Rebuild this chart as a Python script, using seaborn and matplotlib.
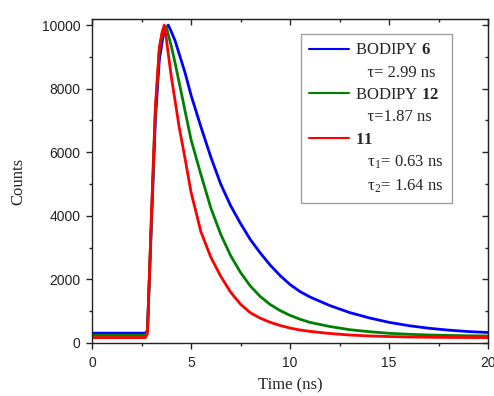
import matplotlib
matplotlib.use("Agg")
import matplotlib.pyplot as plt
from matplotlib.lines import Line2D
from matplotlib.ticker import MultipleLocator
import seaborn as sns
import pandas as pd

# ---- data ----
time_ns = [0, 2.7, 2.8, 3.0, 3.2, 3.4, 3.55, 3.65, 3.75, 3.85, 4.0, 4.2, 4.4, 4.7,
           5.0, 5.5, 6.0, 6.5, 7.0, 7.5, 8.0, 8.5, 9.0, 9.5, 10, 10.5, 11, 12, 13,
           14, 15, 16, 17, 18, 19, 20]
bodipy6 = [310, 310, 400, 3700, 7000, 8900, 9500, 9800, 9900, 10000, 9800, 9500,
           9100, 8500, 7800, 6800, 5850, 5000, 4320, 3760, 3250, 2830, 2450, 2120,
           1840, 1620, 1450, 1180, 960, 790, 650, 545, 465, 405, 360, 330]
bodipy12 = [240, 240, 350, 3900, 7300, 9200, 9750, 9900, 9950, 9700, 9350, 8800,
            8200, 7300, 6400, 5300, 4250, 3420, 2750, 2220, 1790, 1460, 1210, 1020,
            870, 750, 650, 520, 420, 355, 305, 275, 252, 238, 228, 220]
cmpd11 = [170, 170, 300, 4000, 7400, 9300, 9800, 10000, 9600, 9100, 8400, 7600,
          6800, 5800, 4750, 3500, 2700, 2100, 1600, 1220, 950, 780, 650, 550,
          470, 410, 365, 300, 252, 222, 203, 190, 181, 175, 172, 170]
series_names = ["BODIPY 6", "BODIPY 12", "11"]
series_colors = ["#0000ff", "#008000", "#ff0000"]
legend_labels = ["BODIPY $\\mathbf{6}$", "   τ= 2.99 ns",
                 "BODIPY $\\mathbf{12}$", "   τ=1.87 ns",
                 "$\\mathbf{11}$", "   τ$_1$= 0.63 ns", "   τ$_2$= 1.64 ns"]

df = pd.concat([
    pd.DataFrame({"t": time_ns, "c": vals, "s": name})
    for name, vals in zip(series_names, [bodipy6, bodipy12, cmpd11])
])

sns.set_style("ticks")
plt.rcParams["font.family"] = ["Liberation Sans", "DejaVu Sans"]
plt.rcParams["mathtext.fontset"] = "custom"
plt.rcParams["mathtext.rm"] = "Liberation Serif"
plt.rcParams["mathtext.it"] = "Liberation Serif:italic"
plt.rcParams["mathtext.bf"] = "Liberation Serif:bold"

fig = plt.figure(figsize=(4.94, 3.96), dpi=100)
ax = fig.add_axes([92 / 494, 1 - 343 / 396, (488 - 92) / 494, (343 - 19) / 396])

sns.lineplot(data=df, x="t", y="c", hue="s", hue_order=series_names,
             palette=series_colors, linewidth=2.0, ax=ax, legend=False,
             estimator=None, sort=False)

ax.set_xlim(0, 20)
ax.set_ylim(0, 10190)
ax.xaxis.set_major_locator(MultipleLocator(5))
ax.xaxis.set_minor_locator(MultipleLocator(2.5))
ax.yaxis.set_major_locator(MultipleLocator(2000))
ax.yaxis.set_minor_locator(MultipleLocator(1000))
ax.tick_params(which="major", direction="out", length=4.5, width=1.0,
               labelsize=10, colors="#222222", pad=4)
ax.tick_params(axis="x", which="major", pad=5)
ax.tick_params(which="minor", direction="out", length=2.5, width=1.0)
for sp in ax.spines.values():
    sp.set_linewidth(1.0)
    sp.set_color("#222222")

serif = ["Liberation Serif", "DejaVu Serif"]
ax.set_xlabel("Time (ns)", family=serif, fontsize=12, labelpad=5)
ax.set_ylabel("Counts", family=serif, fontsize=12, labelpad=11)

# mirrored inward ticks on top and right
top = ax.secondary_xaxis("top")
top.xaxis.set_major_locator(MultipleLocator(5))
top.xaxis.set_minor_locator(MultipleLocator(2.5))
top.tick_params(which="major", direction="in", length=4.5, width=1.0, labeltop=False)
top.tick_params(which="minor", direction="in", length=2.5, width=1.0)
right = ax.secondary_yaxis("right")
right.yaxis.set_major_locator(MultipleLocator(2000))
right.yaxis.set_minor_locator(MultipleLocator(1000))
right.tick_params(which="major", direction="in", length=4.5, width=1.0, labelright=False)
right.tick_params(which="minor", direction="in", length=2.5, width=1.0)

handles = [
    Line2D([], [], color=series_colors[0], lw=1.5),
    Line2D([], [], color="none"),
    Line2D([], [], color=series_colors[1], lw=1.5),
    Line2D([], [], color="none"),
    Line2D([], [], color=series_colors[2], lw=1.5),
    Line2D([], [], color="none"),
    Line2D([], [], color="none"),
]
leg = ax.legend(handles, legend_labels, loc="upper left",
                bbox_to_anchor=(301 / 494, 1 - 34 / 396),
                bbox_transform=fig.transFigure, borderaxespad=0,
                prop={"family": serif, "size": 12}, fancybox=False,
                frameon=True, handlelength=2.4, handletextpad=0.35,
                borderpad=0.5, labelspacing=0.38)
leg.get_frame().set_edgecolor("#888888")
leg.get_frame().set_linewidth(1.0)

fig.savefig("out.png", dpi=100)
